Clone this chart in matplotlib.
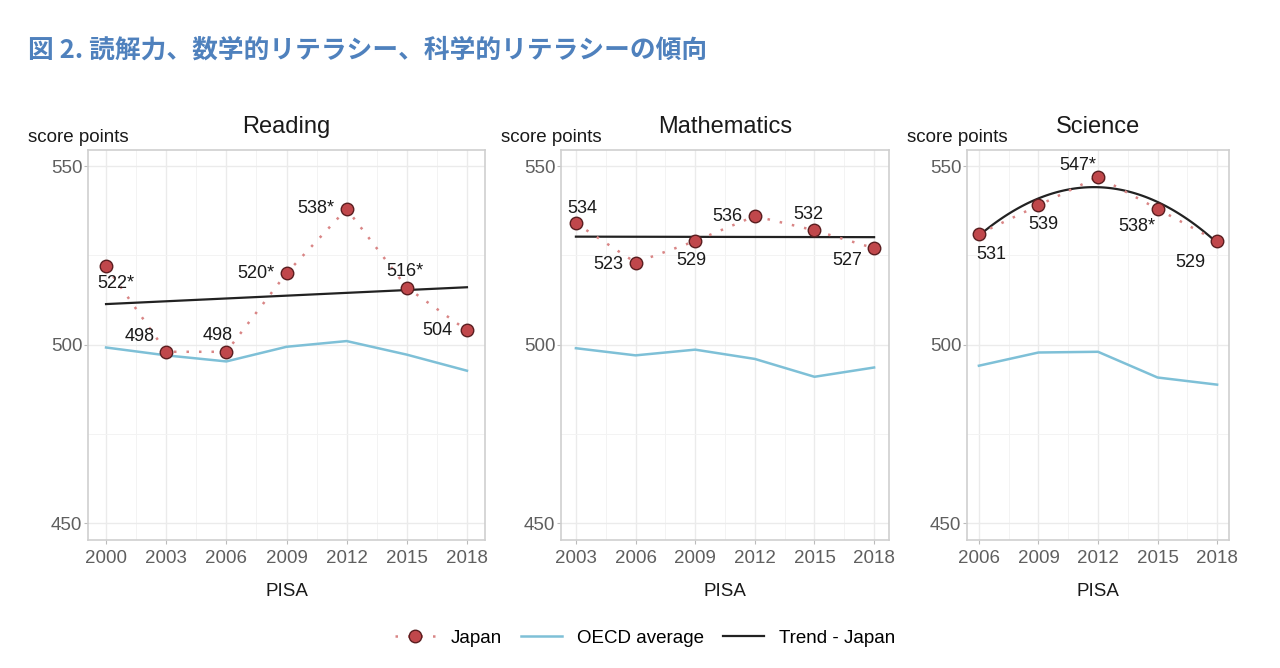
import numpy as np
import matplotlib
matplotlib.use('Agg')
import matplotlib.pyplot as plt
from matplotlib.lines import Line2D

plt.rcParams['font.family'] = ['Liberation Sans', 'Noto Sans CJK JP', 'DejaVu Sans']

# data
read_years = [2000, 2003, 2006, 2009, 2012, 2015, 2018]
read_japan = [522, 498, 498, 520, 538, 516, 504]
read_labels = ['522*', '498', '498', '520*', '538*', '516*', '504']
read_oecd = [499.2, 497.0, 495.3, 499.4, 501.0, 497.2, 492.7]

math_years = [2003, 2006, 2009, 2012, 2015, 2018]
math_japan = [534, 523, 529, 536, 532, 527]
math_labels = ['534', '523', '529', '536', '532', '527']
math_oecd = [499.0, 497.0, 498.6, 496.0, 491.0, 493.6]

sci_years = [2006, 2009, 2012, 2015, 2018]
sci_japan = [531, 539, 547, 538, 529]
sci_labels = ['531', '539', '547*', '538*', '529']
sci_oecd = [494.1, 497.8, 498.0, 490.8, 488.8]

# label offsets in pixels (dx, dy)
read_off = [(10, -17), (-27, 15), (-9, 16), (-31, 0), (-31, 0), (-2, 16), (-30, 0)]
math_off = [(6, 15), (-27, -2), (-4, -19), (-27, 0), (-6, 16), (-27, -12)]
sci_off = [(12, -21), (5, -19), (-20, 11), (-21, -18), (-27, -21)]

JP_RED = '#c0474b'
DOT_RED = '#d98585'
OECD_BLUE = '#7ec0d7'

W, H = 1280, 668
fig = plt.figure(figsize=(W / 100, H / 100), dpi=100)

fig.text(28 / W, 1 - 50 / H, '図 2. 読解力、数学的リテラシー、科学的リテラシーの傾向',
         family=['Noto Sans CJK JP', 'DejaVu Sans'], fontsize=18.5,
         fontweight='bold', color='#4f81bd', va='center', ha='left')

panels = [
    ('Reading', read_years, read_japan, read_labels, read_oecd, read_off, 1, (88, 485)),
    ('Mathematics', math_years, math_japan, math_labels, math_oecd, math_off, 1, (561, 889)),
    ('Science', sci_years, sci_japan, sci_labels, sci_oecd, sci_off, 2, (967, 1229)),
]

top_px, bot_px = 150, 540
for title, yrs, jp, labs, oecd, offs, deg, (l, r) in panels:
    ax = fig.add_axes([l / W, 1 - bot_px / H, (r - l) / W, (bot_px - top_px) / H])
    yrs = np.array(yrs)
    span = yrs[-1] - yrs[0]
    ax.set_xlim(yrs[0] - 0.05 * span, yrs[-1] + 0.05 * span)
    ax.set_ylim(445.3, 554.5)

    ax.set_xticks(yrs)
    ax.set_xticks((yrs[:-1] + yrs[1:]) / 2, minor=True)
    ax.set_yticks([450, 500, 550])
    ax.set_yticks([475, 525], minor=True)
    ax.grid(True, which='major', color='#ebebeb', lw=1.0)
    ax.grid(True, which='minor', color='#f3f3f3', lw=0.7)
    ax.set_axisbelow(True)
    for s in ax.spines.values():
        s.set_color('#cfcfcf')
        s.set_linewidth(1.2)
    ax.tick_params(which='major', length=3, color='#bbbbbb', labelsize=13.5,
                   labelcolor='#5f5f5f', pad=4)
    ax.tick_params(axis='y', pad=1)
    ax.tick_params(which='minor', length=0)

    ax.plot(yrs, oecd, color=OECD_BLUE, lw=1.8, zorder=2)
    coef = np.polyfit(yrs - yrs[0], jp, deg)
    xs = np.linspace(yrs[0], yrs[-1], 100)
    ax.plot(xs, np.polyval(coef, xs - yrs[0]), color='#222222', lw=1.6, zorder=3)
    ax.plot(yrs, jp, ls=(0, (1, 4)), color=DOT_RED, lw=1.8, zorder=4)
    ax.plot(yrs, jp, ls='none', marker='o', ms=9, mfc=JP_RED, mec='#5a1e20',
            mew=1.0, zorder=5)
    for x, y, t, (dx, dy) in zip(yrs, jp, labs, offs):
        ax.annotate(t, (x, y), xytext=(dx, dy), textcoords='offset pixels',
                    ha='center', va='center', fontsize=13, color='#1a1a1a', zorder=6)

    ax.set_title(title, fontsize=17, color='#1a1a1a', pad=12)
    ax.set_xlabel('PISA', fontsize=13.5, color='#1a1a1a', labelpad=12)
    fig.text((l - 60) / W, 1 - 138 / H, 'score points', fontsize=13.5,
             color='#1a1a1a', ha='left', va='center')

handles = [
    Line2D([], [], ls=(0, (1, 4)), color=DOT_RED, lw=1.8, marker='o', ms=9,
           mfc=JP_RED, mec='#5a1e20'),
    Line2D([], [], color=OECD_BLUE, lw=1.8),
    Line2D([], [], color='#222222', lw=1.6),
]
fig.legend(handles, ['Japan', 'OECD average', 'Trend - Japan'], loc='center',
           bbox_to_anchor=(645 / W, 1 - 638 / H), ncol=3, frameon=False,
           fontsize=13.5, handlelength=2.2, columnspacing=1.0, handletextpad=0.8)

fig.savefig('out.png', dpi=100, facecolor='white')
